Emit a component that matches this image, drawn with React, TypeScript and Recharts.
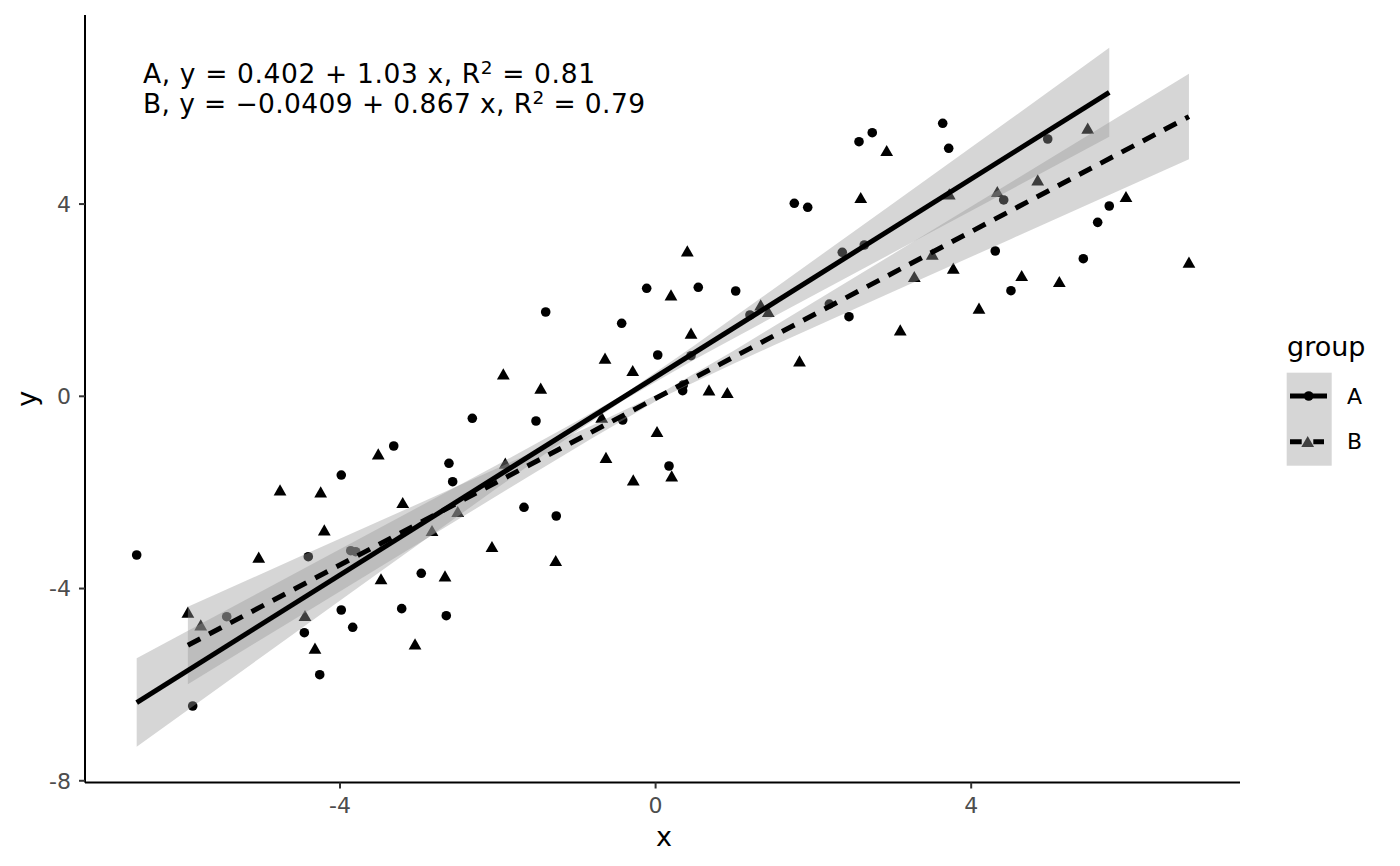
import * as React from "react";
import { ComposedChart, Scatter, Line, Area, XAxis, YAxis } from "recharts";

/* ---------- data ---------- */
const groupAx = [
  -6.577, -5.867, -5.436, -4.452, -4.402, -4.257, -3.984, -3.984, -3.864, -3.801,
  -3.839, -3.319, -3.218, -2.97, -2.653, -2.619, -2.572, -2.323, -1.668, -1.516,
  -1.393, -1.259, -0.43, -0.417, -0.113, 0.027, 0.17, 0.343, 0.351, 0.449,
  0.541, 1.015, 1.196, 1.758, 1.928, 2.202, 2.366, 2.451, 2.578, 2.645,
  2.746, 3.639, 3.715, 4.305, 4.412, 4.504, 4.97, 5.421, 5.603, 5.75,
];
const groupAy = [
  -3.302, -6.444, -4.586, -4.919, -3.338, -5.793, -1.638, -4.447, -3.213, -3.234,
  -4.807, -1.034, -4.419, -3.683, -4.565, -1.394, -1.777, -0.458, -2.31, -0.514,
  1.754, -2.491, 1.519, -0.493, 2.247, 0.859, -1.45, 0.117, 0.235, 0.845,
  2.268, 2.191, 1.692, 4.016, 3.933, 1.92, 2.996, 1.656, 5.298, 3.148,
  5.485, 5.68, 5.16, 3.023, 4.085, 2.197, 5.354, 2.863, 3.62, 3.96,
];
const groupBx = [
  -5.928, -5.765, -5.03, -4.76, -4.245, -4.444, -4.317, -4.199, -3.515, -3.48,
  -3.205, -3.049, -2.834, -2.669, -2.508, -2.074, -1.93, -1.905, -1.456, -1.266,
  -0.641, -0.683, -0.629, -0.29, -0.283, 0.018, 0.195, 0.204, 0.402, 0.449,
  0.677, 0.909, 1.332, 1.428, 1.824, 2.6, 2.929, 3.101, 3.279, 3.507,
  3.722, 3.773, 4.099, 4.331, 4.64, 4.843, 5.117, 5.477, 5.962, 6.76,
];
const groupBy = [
  -4.494, -4.759, -3.35, -1.95, -1.991, -4.565, -5.243, -2.782, -1.201, -3.801,
  -2.214, -5.154, -2.797, -3.739, -2.401, -3.129, 0.464, -1.394, 0.166, -3.421,
  0.791, -0.437, -1.273, 0.533, -1.742, -0.737, 2.108, -1.658, 3.023, 1.311,
  0.131, 0.075, 1.9, 1.76, 0.735, 4.132, 5.11, 1.38, 2.489, 2.955,
  4.209, 2.663, 1.831, 4.257, 2.509, 4.501, 2.385, 5.576, 4.153, 2.788,
];

// fitted lines (end points of each fit)
const fitAx = [-6.577, 5.75];
const fitAy = [-6.372, 6.325];
const fitBx = [-5.928, 6.76];
const fitBy = [-5.181, 5.82];

// confidence ribbons
const bandAx = [-6.577, -5, -3.5, -2, -1, -0.41, 0.5, 1.5, 3, 4.5, 5.75];
const bandAlo = [-7.29, -5.43, -3.66, -1.9, -0.73, -0.09, 0.77, 1.66, 2.98, 4.3, 5.4];
const bandAhi = [-5.45, -4.06, -2.74, -1.42, -0.52, 0.03, 1.07, 2.24, 4.0, 5.77, 7.25];
const bandBx = [-5.928, -4.5, -3, -1.5, -0.8, 0.1, 1.0, 1.5, 3, 4.5, 6.76];
const bandBlo = [-5.99, -4.56, -3.06, -1.56, -0.87, -0.01, 0.69, 1.06, 2.17, 3.27, 4.93];
const bandBhi = [-4.38, -3.33, -2.23, -1.12, -0.6, 0.1, 0.96, 1.46, 2.95, 4.45, 6.71];

const xTicks = [-4, 0, 4];
const yTicks = [-8, -4, 0, 4];

/* ---------- shared visuals ---------- */
const font = "DejaVu Sans";
const tickStyle = { fontSize: 22, fill: "#4D4D4D", fontFamily: font };
const ribbonFill = "#999999";

const zip = (xs: number[], ys: number[]) => xs.map((x, i) => ({ x, y: ys[i] }));
const pointsA = zip(groupAx, groupAy);
const pointsB = zip(groupBx, groupBy);
const lineA = zip(fitAx, fitAy);
const lineB = zip(fitBx, fitBy);
const ribbonA = bandAx.map((x, i) => ({ x, band: [bandAlo[i], bandAhi[i]] }));
const ribbonB = bandBx.map((x, i) => ({ x, band: [bandBlo[i], bandBhi[i]] }));

const CircleShape = (p: any) => <circle cx={p.cx} cy={p.cy} r={4.8} fill="#000" />;
const TriangleShape = (p: any) => (
  <polygon
    points={`${p.cx},${p.cy - 5.8} ${p.cx + 6.4},${p.cy + 5.4} ${p.cx - 6.4},${p.cy + 5.4}`}
    fill="#000"
  />
);

export default function App() {
  return (
    <div style={{ position: "relative", width: 1384, height: 858, fontFamily: font }}>
      <ComposedChart width={1384} height={858} margin={{ top: 7, right: 152, bottom: 0, left: 0 }}>
        <XAxis
          type="number"
          dataKey="x"
          domain={[-7.232, 7.407]}
          ticks={xTicks}
          allowDataOverflow
          height={83.5}
          tickSize={6}
          tickMargin={9}
          fontSize={22}
          axisLine={{ stroke: "#000", strokeWidth: 2 }}
          tickLine={{ stroke: "#333", strokeWidth: 2 }}
          tick={tickStyle}
        />
        <YAxis
          type="number"
          dataKey="y"
          domain={[-8.036, 7.934]}
          ticks={yTicks}
          allowDataOverflow
          width={77}
          tickSize={6}
          tickMargin={8}
          fontSize={22}
          axisLine={{ stroke: "#000", strokeWidth: 2 }}
          tickLine={{ stroke: "#333", strokeWidth: 2 }}
          tick={tickStyle}
        />
        <Scatter data={pointsA} shape={CircleShape} isAnimationActive={false} zIndex={50} />
        <Scatter data={pointsB} shape={TriangleShape} isAnimationActive={false} zIndex={50} />
        <Area
          data={ribbonA}
          dataKey="band"
          type="linear"
          stroke="none"
          fill={ribbonFill}
          fillOpacity={0.4}
          dot={false}
          activeDot={false}
          isAnimationActive={false}
          zIndex={700}
        />
        <Area
          data={ribbonB}
          dataKey="band"
          type="linear"
          stroke="none"
          fill={ribbonFill}
          fillOpacity={0.4}
          dot={false}
          activeDot={false}
          isAnimationActive={false}
          zIndex={700}
        />
        <Line
          data={lineA}
          dataKey="y"
          type="linear"
          stroke="#000"
          strokeWidth={5}
          dot={false}
          activeDot={false}
          isAnimationActive={false}
          zIndex={800}
        />
        <Line
          data={lineB}
          dataKey="y"
          type="linear"
          stroke="#000"
          strokeWidth={5}
          strokeDasharray="14 10"
          dot={false}
          activeDot={false}
          isAnimationActive={false}
          zIndex={800}
        />
      </ComposedChart>

      {/* annotation, axis titles and legend */}
      <svg
        width={1384}
        height={858}
        style={{ position: "absolute", left: 0, top: 0, pointerEvents: "none" }}
        fontFamily={font}
      >
        <text x={135} y={75.3} fontSize={26.5} textLength={452} lengthAdjust="spacing">
          A, y = 0.402 + 1.03 x, R
          <tspan fontSize={18.5} dy={-9}>2</tspan>
          <tspan dy={9}> = 0.81</tspan>
        </text>
        <text x={135} y={104.7} fontSize={26.5} textLength={502} lengthAdjust="spacing">
          B, y = −0.0409 + 0.867 x, R
          <tspan fontSize={18.5} dy={-9}>2</tspan>
          <tspan dy={9}> = 0.79</tspan>
        </text>

        <text x={656} y={838} fontSize={27} textAnchor="middle">x</text>
        <text x={28.5} y={390.8} fontSize={27} textAnchor="middle" transform="rotate(-90 28.5 390.8)">y</text>

        <text x={1279} y={348} fontSize={27}>group</text>
        <rect x={1278.7} y={364.7} width={45} height={93} fill={ribbonFill} fillOpacity={0.4} />
        <line x1={1282} y1={388} x2={1319} y2={388} stroke="#000" strokeWidth={5} />
        <circle cx={1300.7} cy={388} r={4.8} fill="#000" />
        <line x1={1282} y1={433.7} x2={1316} y2={433.7} stroke="#000" strokeWidth={5} strokeDasharray="11.7 11.6" />
        <polygon points="1299.7,427.9 1306.1,439.1 1293.3,439.1" fill="#404040" />
        <text x={1339} y={388} fontSize={22} dominantBaseline="central">A</text>
        <text x={1339} y={433.7} fontSize={22} dominantBaseline="central">B</text>
      </svg>
    </div>
  );
}
